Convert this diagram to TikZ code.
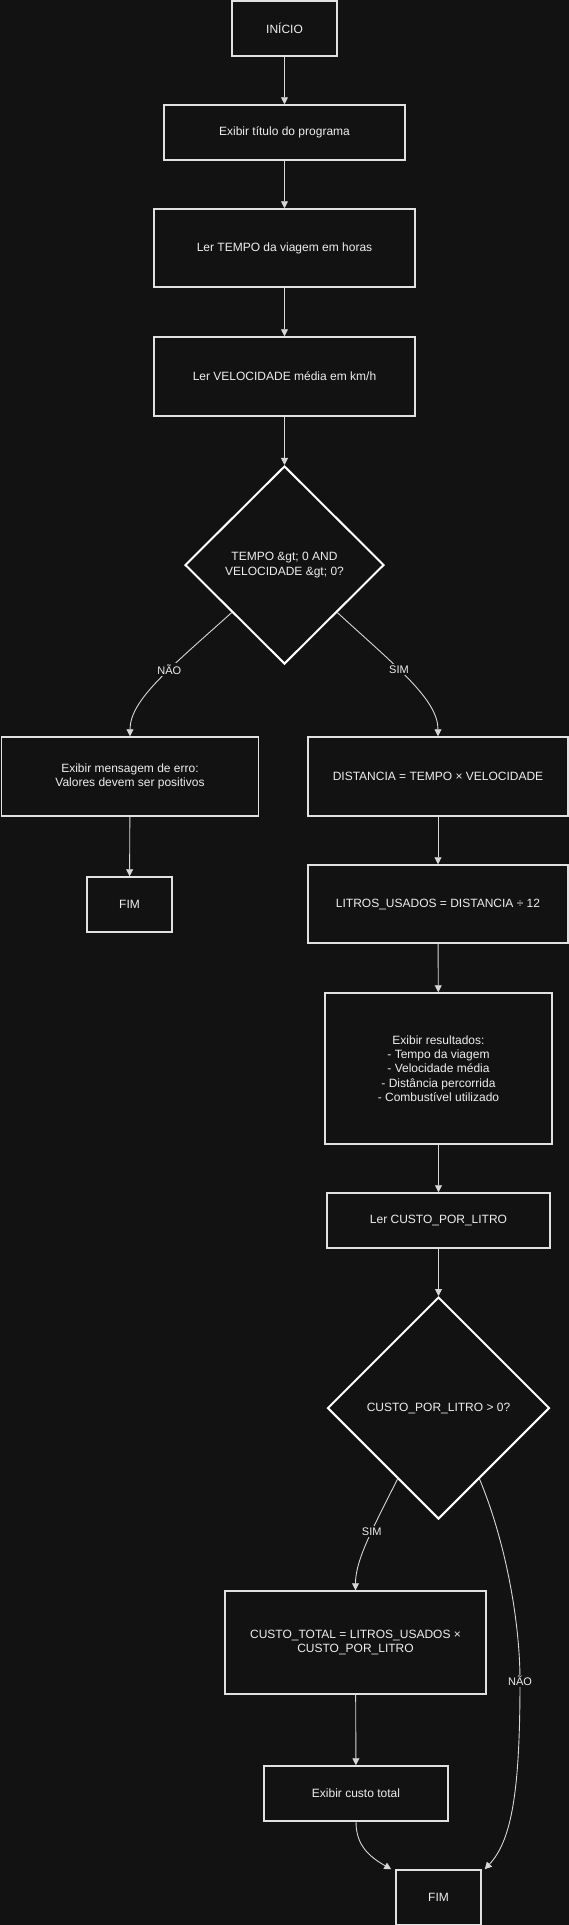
\documentclass[tikz,border=0pt]{standalone}
\usepackage{fontspec}
\setmainfont{Liberation Sans}
\usetikzlibrary{arrows.meta,shapes.geometric,calc}
\definecolor{bgc}{RGB}{18,18,18}
\definecolor{boxline}{RGB}{225,225,225}
\definecolor{edgec}{RGB}{215,215,215}
\definecolor{txtc}{RGB}{238,238,238}
\begin{document}
\begin{tikzpicture}[x=1pt,y=-1pt,
  box/.style={rectangle, draw=boxline, line width=1.5pt, fill=bgc, text=txtc,
    font=\fontsize{12}{14.3}\selectfont, align=center, inner sep=0pt},
  dec/.style={diamond, draw=white, line width=2pt, fill=bgc, text=txtc,
    font=\fontsize{12}{15.5}\selectfont, align=center, inner sep=0pt},
  conn/.style={draw=edgec, line width=0.9pt, -{Triangle[width=7pt,length=7pt]}},
  lbl/.style={fill=bgc, text=txtc, font=\fontsize{11}{13}\selectfont, inner sep=1.5pt}]
\useasboundingbox (0,0) rectangle (569,1925);
\fill[bgc] (0,0) rectangle (569,1925);

\node[box, minimum width=105pt, minimum height=55pt] (inicio) at (284.5,28.5) {INÍCIO};
\node[box, minimum width=241pt, minimum height=55pt] (titulo) at (284.5,132.5) {Exibir título do programa};
\node[box, minimum width=261pt, minimum height=78pt] (tempo) at (284.5,248) {Ler TEMPO da viagem em horas};
\node[box, minimum width=261pt, minimum height=79pt] (vel) at (284.5,376.5) {Ler VELOCIDADE média em km/h};
\node[dec, minimum width=199pt, minimum height=198pt] (dec1) at (284.5,565) {TEMPO \&gt; 0 AND\\VELOCIDADE \&gt; 0?};
\node[box, minimum width=257pt, minimum height=79pt] (err) at (130,776.5) {Exibir mensagem de erro:\\Valores devem ser positivos};
\node[box, minimum width=260pt, minimum height=79pt] (dist) at (438,776.5) {DISTANCIA = TEMPO × VELOCIDADE};
\node[box, minimum width=85pt, minimum height=55pt] (fim1) at (129.5,904.5) {FIM};
\node[box, minimum width=260pt, minimum height=78pt] (litros) at (438,904) {LITROS\_USADOS = DISTANCIA ÷ 12};
\node[box, minimum width=227pt, minimum height=151pt] (res) at (438.5,1068.5) {Exibir resultados:\\- Tempo da viagem\\- Velocidade média\\- Distância percorrida\\- Combustível utilizado};
\node[box, minimum width=223pt, minimum height=55pt] (custo) at (438.5,1220.5) {Ler CUSTO\_POR\_LITRO};
\node[dec, minimum width=222pt, minimum height=222pt] (dec2) at (438.5,1408) {CUSTO\_POR\_LITRO > 0?};
\node[box, minimum width=261pt, minimum height=103pt] (total) at (355.5,1642.5) {CUSTO\_TOTAL = LITROS\_USADOS ×\\CUSTO\_POR\_LITRO};
\node[box, minimum width=184pt, minimum height=55pt] (ecusto) at (356,1793.5) {Exibir custo total};
\node[box, minimum width=85pt, minimum height=55pt] (fim2) at (438.5,1897.5) {FIM};

\coordinate (fimL) at ($(fim2.north west)+(-4,0)$);
\coordinate (fimR) at ($(fim2.north east)+(3,0)$);
\coordinate (naoMid) at (520,1681);

\draw[conn] (inicio) -- (titulo);
\draw[conn] (titulo) -- (tempo);
\draw[conn] (tempo) -- (vel);
\draw[conn] (vel) -- (dec1);
\draw[conn] (dec1.-138) .. controls (170,668) and (130,700) .. (err.north) node[lbl,pos=0.4] {NÃO};
\draw[conn] (dec1.-42) .. controls (398,668) and (438,700) .. (dist.north) node[lbl,pos=0.4] {SIM};
\draw[conn] (err) -- (fim1);
\draw[conn] (dist) -- (litros);
\draw[conn] (litros) -- (res);
\draw[conn] (res) -- (custo);
\draw[conn] (custo) -- (dec2);
\draw[conn] (dec2.-120) .. controls (372,1530) and (355.5,1560) .. (total.north) node[lbl,pos=0.4] {SIM};
\draw[conn] (total) -- (ecusto);
\draw[conn] (ecusto.south) .. controls (356,1846) and (370,1857) .. (fimL);
\draw[conn] (dec2.-60) .. controls (505,1540) and (520,1620) .. (naoMid) .. controls (520,1790) and (512,1840) .. (fimR);
\node[lbl] (naoLbl) at (naoMid) {NÃO};
\end{tikzpicture}
\end{document}
